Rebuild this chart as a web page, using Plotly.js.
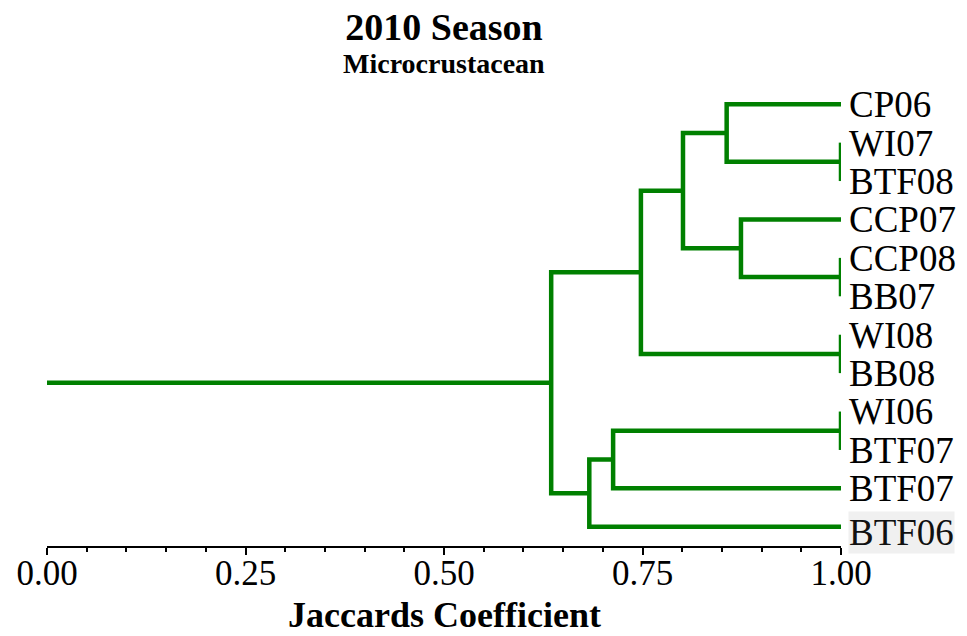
<!DOCTYPE html>
<html>
<head>
<meta charset="utf-8">
<script src="https://cdn.plot.ly/plotly-3.0.1.min.js"></script>
<style>html,body{margin:0;padding:0;background:#fff;}#chart{width:967px;height:636px;}</style>
</head>
<body>
<div id="chart"></div>
<script>
// Leaves, top to bottom
const leaves = ['CP06','WI07','BTF08','CCP07','CCP08','BB07','WI08','BB08','WI06','BTF07','BTF07','BTF06'];
// Merges: [childA, childB, similarity]; ids 0..11 = leaves, 12+ = clusters in order
const mergeA = [1, 4, 6, 8, 0, 3, 16, 18, 15, 20, 19];
const mergeB = [2, 5, 7, 9, 12, 13, 17, 14, 10, 11, 21];
const mergeSim = [1.00, 1.00, 1.00, 1.00, 0.856, 0.874, 0.801, 0.748, 0.713, 0.683, 0.635];
const xTickVals = [0, 0.25, 0.5, 0.75, 1.0];
const xTickText = ['0.00','0.25','0.50','0.75','1.00'];

const n = leaves.length;
const pos = leaves.map((_, i) => i);
const sim = leaves.map(() => 1.0);
const xs = [], ys = [];
for (let k = 0; k < mergeSim.length; k++) {
  const a = mergeA[k], b = mergeB[k], h = mergeSim[k];
  xs.push(sim[a], h, h, sim[b], null);
  ys.push(pos[a], pos[a], pos[b], pos[b], null);
  pos.push((pos[a] + pos[b]) / 2);
  sim.push(h);
}
const root = pos.length - 1;
xs.push(sim[root], 0, null);
ys.push(pos[root], pos[root], null);

const green = '#008000';
const serif = 'Liberation Serif, Times New Roman, serif';

const data = [
  {
    type: 'scatter', mode: 'lines', x: xs, y: ys,
    line: {color: green, width: 4.5},
    cliponaxis: false, hoverinfo: 'skip', showlegend: false
  },
  {
    // invisible carrier for the tick-label axis
    type: 'scatter', mode: 'none', x: [0, 1], y: [0, 0], xaxis: 'x2', yaxis: 'y',
    hoverinfo: 'skip', showlegend: false
  }
];

const layout = {
  width: 967, height: 636,
  margin: {l: 47, r: 126, t: 85, b: 90},
  paper_bgcolor: '#fff', plot_bgcolor: '#fff',
  showlegend: false,
  title: {
    text: '<b>2010 Season</b>',
    font: {family: serif, size: 38, color: '#000'},
    x: 0.5, xref: 'paper', xanchor: 'center',
    y: 1 - 27 / 636, yref: 'container', yanchor: 'middle'
  },
  xaxis: {
    range: [0, 1.0],
    showgrid: false, zeroline: false,
    showline: true, linecolor: '#000', linewidth: 2,
    ticks: 'outside', ticklen: 7, tickwidth: 2, tickcolor: '#000',
    tickvals: xTickVals, showticklabels: false,
    minor: {dtick: 0.05, ticks: 'outside', ticklen: 4, tickwidth: 2, tickcolor: '#000', showgrid: false},
    fixedrange: true
  },
  xaxis2: {
    overlaying: 'x', side: 'bottom', anchor: 'y',
    range: [0, 1.0],
    showgrid: false, zeroline: false, showline: false,
    ticks: '', tickvals: xTickVals, ticktext: xTickText,
    tickfont: {family: serif, size: 35, color: '#000'},
    ticklabelstandoff: 3,
    fixedrange: true
  },
  yaxis: {
    range: [n - 0.5, -0.5],
    side: 'right',
    showgrid: false, zeroline: false, showline: false,
    ticks: '',
    tickvals: leaves.map((_, i) => i),
    ticktext: leaves,
    tickfont: {family: serif, size: 37, color: '#000'},
    ticklabelstandoff: 7,
    fixedrange: true
  },
  annotations: [
    {
      text: '<b>Microcrustacean</b>', xref: 'paper', yref: 'paper',
      x: 0.5, y: 1 + (85 - 64) / 461, xanchor: 'center', yanchor: 'middle',
      showarrow: false, font: {family: serif, size: 28, color: '#000'}
    },
    {
      text: '<b>Jaccards Coefficient</b>', xref: 'paper', yref: 'paper',
      x: 0.5, y: -(636 - 546) / 461, xanchor: 'center', yanchor: 'bottom',
      showarrow: false, borderpad: 0, font: {family: serif, size: 36, color: '#000'}
    },
    {
      text: leaves[n - 1], xref: 'paper', yref: 'y',
      x: 1, y: n - 1, xanchor: 'left', yanchor: 'middle',
      xshift: 7, yshift: -6,
      showarrow: false, bgcolor: '#f0f0f0', borderpad: 0,
      font: {family: serif, size: 37, color: '#111'}
    }
  ]
};

Plotly.newPlot('chart', data, layout, {displayModeBar: false, staticPlot: true});
</script>
</body>
</html>
